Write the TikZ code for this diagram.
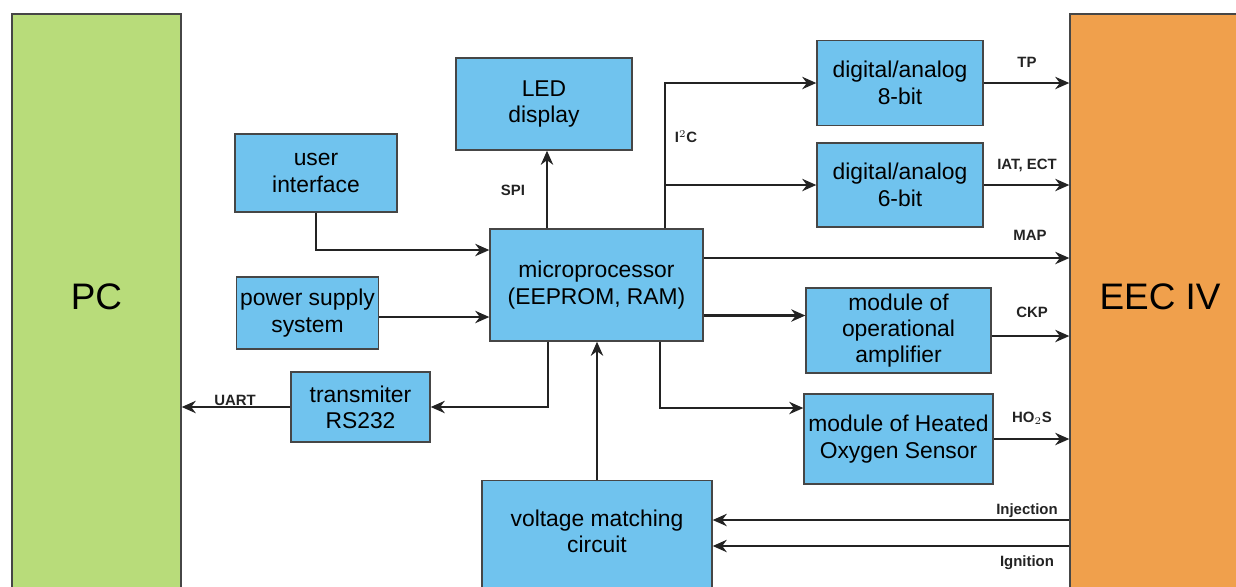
\documentclass[tikz,border=0pt]{standalone}
\usepackage{fontspec}
\setmainfont{Liberation Sans}
\usepackage{tikz}
\usetikzlibrary{arrows.meta, positioning, calc}
\definecolor{boxblue}{RGB}{112,195,238}
\definecolor{pcgreen}{RGB}{184,220,122}
\definecolor{eecorange}{RGB}{240,160,76}
\definecolor{edgegray}{RGB}{70,70,70}
\definecolor{wiredark}{RGB}{35,35,35}
\tikzset{
  block/.style={rectangle, draw=edgegray, fill=boxblue, align=center,
    font=\fontsize{13}{15}\selectfont, line width=0.8pt, inner sep=2pt},
  side/.style={rectangle, draw=edgegray, line width=0.8pt, align=center,
    font=\fontsize{21}{24}\selectfont},
  arrow/.style={-{Stealth[length=8pt,width=7pt]}, line width=1.4pt, color=wiredark},
  sig/.style={font=\bfseries\fontsize{8.5}{10}\selectfont, text=wiredark, inner sep=1pt}
}

\begin{document}
\begin{tikzpicture}[x=0.02cm, y=-0.02cm]
    \clip (0,0) rectangle (1236,586);

    % PC and EEC IV
    \node[side, fill=pcgreen, minimum width=3.38cm, minimum height=11.64cm] (pc) at (96.5,305) {PC\\[-14pt]};
    \node[side, fill=eecorange, minimum width=3.6cm, minimum height=11.64cm] (eec) at (1160,305) {EEC IV\\[-14pt]};

    % Left side blocks
    \node[block, minimum width=3.52cm, minimum height=1.84cm] (led) at (544,104) {LED\\display};
    \node[block, minimum width=3.24cm, minimum height=1.56cm] (ui) at (316,173) {user\\interface};
    \node[block, minimum width=4.26cm, minimum height=2.24cm] (mcu) at (596.5,285) {microprocessor\\(EEPROM, RAM)};
    \node[block, minimum width=2.82cm, minimum height=1.44cm] (psu) at (307.5,313) {power supply\\system};
    \node[block, minimum width=2.78cm, minimum height=1.4cm] (tx) at (360.5,407) {transmiter\\RS232};
    \node[block, minimum width=4.6cm, minimum height=2.38cm] (vmc) at (597,540) {voltage matching\\circuit\\[-5pt]};

    % Right side blocks
    \node[block, minimum width=3.32cm, minimum height=1.7cm] (da8) at (900,83) {digital/analog\\8-bit};
    \node[block, minimum width=3.32cm, minimum height=1.68cm] (da6) at (900,185) {digital/analog\\6-bit};
    \node[block, minimum width=3.7cm, minimum height=1.7cm] (opa) at (898.5,330.5) {module of\\operational\\amplifier};
    \node[block, minimum width=3.78cm, minimum height=1.8cm] (hos) at (898.5,439) {module of Heated\\Oxygen Sensor};

    % Signal labels
    \node[sig] (uart) at (235,400) {UART};
    \node[sig] (spi) at (513,190) {SPI};
    \node[sig] (i2c) at (686,137) {I$^2$C};
    \node[sig] (tp) at (1027,62) {TP};
    \node[sig] (iat) at (1027,165) {IAT, ECT};
    \node[sig] (map) at (1030,235) {MAP};
    \node[sig] (ckp) at (1032,312) {CKP};
    \node[sig] (ho2s) at (1032,418) {HO$_2$S};
    \node[sig] (injl) at (1027,511) {Injection};
    \node[sig] (ignl) at (1027,563) {Ignition};

    % Helper points
    \coordinate (bus) at ([xshift=1.37cm]mcu.north);
    \coordinate (pwr) at ([yshift=-0.08cm]psu.east);
    \coordinate (inj) at ([yshift=0.4cm]vmc.east);
    \coordinate (ign) at ([yshift=-0.12cm]vmc.east);

    % Connections around the microprocessor
    \draw[arrow] (ui.south) |- ([yshift=0.7cm]mcu.west);
    \draw[arrow] (pwr) -- (pwr -| mcu.west);
    \draw[arrow] ([xshift=-0.97cm]mcu.south) |- (tx.east);
    \draw[arrow] (tx.west) -- (tx.west -| pc.east);
    \draw[arrow] ([xshift=0.06cm]led.south |- mcu.north) -- ([xshift=0.06cm]led.south);
    \draw[arrow] (vmc.north) -- (vmc.north |- mcu.south);

    % Outputs of the microprocessor
    \draw[arrow] (bus) |- (da8.west);
    \draw[arrow] (bus |- da6.west) -- (da6.west);
    \draw[arrow] ([yshift=0.54cm]mcu.east) -- ([yshift=0.54cm]mcu.east -| eec.west);
    \draw[arrow] ([yshift=0.3cm]opa.west -| mcu.east) -- ([yshift=0.3cm]opa.west);
    \draw[arrow] ([xshift=1.27cm]mcu.south) |- ([yshift=0.62cm]hos.west);

    % Into EEC IV
    \draw[arrow] (da8.east) -- (da8.east -| eec.west);
    \draw[arrow] (da6.east) -- (da6.east -| eec.west);
    \draw[arrow] ([yshift=-0.11cm]opa.east) -- ([yshift=-0.11cm]opa.east -| eec.west);
    \draw[arrow] (hos.east) -- (hos.east -| eec.west);

    % Back from EEC IV
    \draw[arrow] (inj -| eec.west) -- (inj);
    \draw[arrow] (ign -| eec.west) -- (ign);
\end{tikzpicture}
\end{document}
